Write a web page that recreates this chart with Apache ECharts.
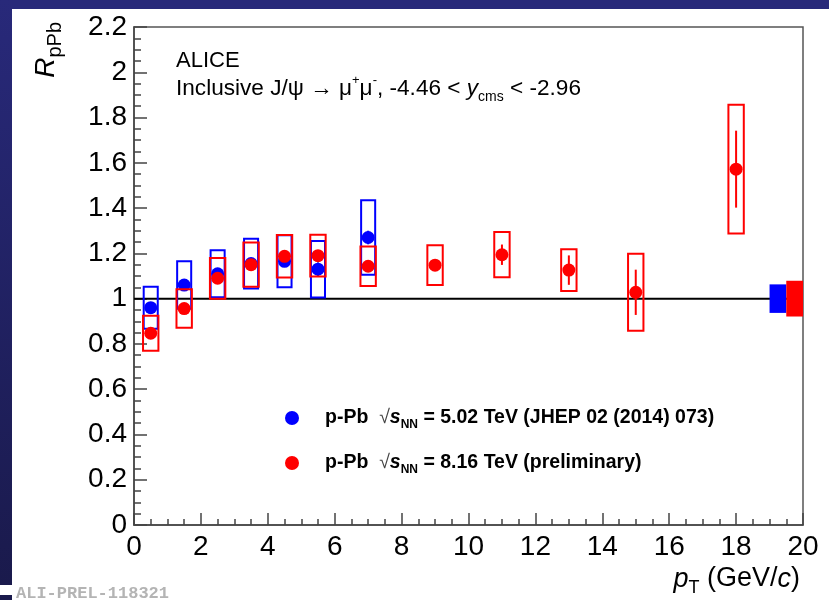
<!DOCTYPE html>
<html>
<head>
<meta charset="utf-8">
<script src="https://cdn.jsdelivr.net/npm/echarts@6/dist/echarts.min.js"></script>
<style>
html, body { margin: 0; padding: 0; background: #fff; }
#chart { width: 829px; height: 600px; }
</style>
</head>
<body>
<div id="chart"></div>
<script>
// p-Pb 5.02 TeV (JHEP 02 (2014) 073)
var pt502 = [0.5, 1.5, 2.5, 3.5, 4.5, 5.5, 7];
var rppb502 = [0.96, 1.06, 1.11, 1.155, 1.165, 1.13, 1.27];
var stat502 = [0.02, 0.02, 0.02, 0.025, 0.025, 0.03, 0.03];
var sys502 = [0.093, 0.105, 0.104, 0.11, 0.115, 0.125, 0.165];

// p-Pb 8.16 TeV (preliminary)
var pt816 = [0.5, 1.5, 2.5, 3.5, 4.5, 5.5, 7, 9, 11, 13, 15, 18];
var rppb816 = [0.847, 0.956, 1.09, 1.15, 1.187, 1.19, 1.143, 1.148, 1.194, 1.126, 1.028, 1.572];
var stat816 = [0.01, 0.015, 0.015, 0.015, 0.02, 0.02, 0.025, 0.025, 0.045, 0.065, 0.10, 0.17];
var sys816 = [0.077, 0.085, 0.09, 0.098, 0.094, 0.092, 0.087, 0.088, 0.10, 0.092, 0.17, 0.284];

// global (correlated) uncertainties drawn at R = 1 near the right edge
var globalRange502 = [19.0, 19.5];
var globalRange816 = [19.5, 20.0];
var globalUnc502 = 0.063;
var globalUnc816 = 0.079;

var xTicks = [0, 2, 4, 6, 8, 10, 12, 14, 16, 18, 20];
var yTicks = [0, 0.2, 0.4, 0.6, 0.8, 1, 1.2, 1.4, 1.6, 1.8, 2, 2.2];

var FONT = "'Liberation Sans', Arial, Helvetica, sans-serif";
var BLUE = '#0000ff';
var RED = '#ff0000';

function zip(xs, ys, es) {
    var out = [];
    for (var i = 0; i < xs.length; i++) {
        out.push(es ? [xs[i], ys[i], es[i]] : [xs[i], ys[i]]);
    }
    return out;
}

var boxRenderer = function(halfW, color) {
    return function(params, api) {
        var x = api.value(0), y = api.value(1), e = api.value(2);
        var p0 = api.coord([x - halfW, y + e]);
        var p1 = api.coord([x + halfW, y - e]);
        return {
            type: 'rect',
            shape: { x: p0[0], y: p0[1], width: p1[0] - p0[0], height: p1[1] - p0[1] },
            style: { fill: 'none', stroke: color, lineWidth: 2 }
        };
    };
};

var statRenderer = function(color) {
    return function(params, api) {
        var x = api.value(0), y = api.value(1), e = api.value(2);
        var p0 = api.coord([x, y - e]);
        var p1 = api.coord([x, y + e]);
        return {
            type: 'line',
            shape: { x1: p0[0], y1: p0[1], x2: p1[0], y2: p1[1] },
            style: { stroke: color, lineWidth: 2 }
        };
    };
};

var globalRenderer = function(color) {
    return function(params, api) {
        var p0 = api.coord([api.value(0), 1 + api.value(2)]);
        var p1 = api.coord([api.value(1), 1 - api.value(2)]);
        return {
            type: 'rect',
            shape: { x: p0[0], y: p0[1], width: p1[0] - p0[0], height: p1[1] - p0[1] },
            style: { fill: color }
        };
    };
};

var legendText = {
    '5.02': '{b|p-Pb  }{r|√}{i|s}{sub|NN}{b| = 5.02 TeV (JHEP 02 (2014) 073)}',
    '8.16': '{b|p-Pb  }{r|√}{i|s}{sub|NN}{b| = 8.16 TeV (preliminary)}'
};

var axisCommon = {
    axisLine: { show: true, onZero: false, lineStyle: { color: '#444', width: 1.5 } },
    splitLine: { show: false },
    axisLabel: { color: '#000', fontFamily: FONT, fontSize: 28 }
};

var chart = echarts.init(document.getElementById('chart'));

chart.setOption({
    animation: false,
    backgroundColor: '#ffffff',
    grid: {
        left: 134, right: 26, top: 27, bottom: 75,
        show: true, borderColor: '#555', borderWidth: 1.5, backgroundColor: 'transparent'
    },
    xAxis: Object.assign({}, axisCommon, {
        type: 'value', min: xTicks[0], max: xTicks[xTicks.length - 1], interval: 2,
        axisTick: { inside: true, length: 12, lineStyle: { color: '#444', width: 1.5 } },
        minorTick: { show: true, splitNumber: 4, length: 6, lineStyle: { color: '#444', width: 1.5 } },
        axisLabel: { color: '#000', fontFamily: FONT, fontSize: 28, margin: 8 }
    }),
    yAxis: Object.assign({}, axisCommon, {
        type: 'value', min: yTicks[0], max: yTicks[yTicks.length - 1], interval: 0.2,
        axisTick: { inside: true, length: 13, lineStyle: { color: '#444', width: 1.5 } },
        minorTick: { show: true, splitNumber: 4, length: 7, lineStyle: { color: '#444', width: 1.5 } },
        axisLabel: { color: '#000', fontFamily: FONT, fontSize: 28, margin: 7 }
    }),
    legend: {
        data: ['5.02', '8.16'],
        orient: 'vertical',
        left: 280, top: 403,
        icon: 'circle',
        itemWidth: 56, itemHeight: 14, itemGap: 22,
        selectedMode: false,
        formatter: function(name) { return legendText[name]; },
        textStyle: {
            color: '#000', fontFamily: FONT, fontSize: 19.5, fontWeight: 'bold',
            rich: {
                b: { fontFamily: FONT, fontSize: 19.5, fontWeight: 'bold', color: '#000', lineHeight: 26 },
                r: { fontFamily: FONT, fontSize: 19.5, fontWeight: 'normal', color: '#444', lineHeight: 26 },
                i: { fontFamily: FONT, fontSize: 19.5, fontWeight: 'bold', fontStyle: 'italic', color: '#000', lineHeight: 26 },
                sub: { fontFamily: FONT, fontSize: 12, fontWeight: 'bold', color: '#000', verticalAlign: 'bottom', lineHeight: 14 }
            }
        }
    },
    graphic: [
        { type: 'rect', shape: { x: 0, y: 0, width: 829, height: 9 }, style: { fill: '#28297a' }, z: 100 },
        {
            type: 'rect', shape: { x: 0, y: 0, width: 12, height: 585 }, z: 100,
            style: { fill: new echarts.graphic.LinearGradient(0, 0, 0, 1, [
                { offset: 0, color: '#28297a' }, { offset: 1, color: '#1a1a4c' }
            ]) }
        },
        { type: 'rect', shape: { x: 0, y: 595, width: 12, height: 5 }, style: { fill: '#1a1a4c' }, z: 100 },
        {
            type: 'text', x: 16, y: 594, z: 100,
            style: { text: 'ALI-PREL-118321', font: "bold 17px 'Liberation Mono', monospace", fill: '#b4b4b4', verticalAlign: 'middle' }
        },
        {
            type: 'text', x: 176, y: 61, z: 100,
            style: { text: 'ALICE', font: '22px ' + FONT, fill: '#000', verticalAlign: 'middle' }
        },
        {
            type: 'text', x: 176, y: 89, z: 100,
            style: {
                text: '{n|Inclusive J/ψ → μ}{sup|+}{n|μ}{sup|-}{n|, -4.46 < }{i|y}{sub|cms}{n| < -2.96}',
                verticalAlign: 'middle',
                rich: {
                    n: { fontFamily: FONT, fontSize: 22.6, fill: '#000', lineHeight: 30 },
                    i: { fontFamily: FONT, fontSize: 22.6, fontStyle: 'italic', fill: '#000', lineHeight: 30 },
                    sup: { fontFamily: FONT, fontSize: 13, fill: '#000', verticalAlign: 'top', lineHeight: 14 },
                    sub: { fontFamily: FONT, fontSize: 14, fill: '#000', verticalAlign: 'bottom', lineHeight: 14 }
                }
            }
        },
        {
            type: 'text', x: 46.5, y: 22, rotation: Math.PI / 2, z: 100,
            style: {
                text: '{r|R}{s|pPb}',
                align: 'right', verticalAlign: 'middle',
                rich: {
                    r: { fontFamily: FONT, fontSize: 28, fontStyle: 'italic', fill: '#000', lineHeight: 38 },
                    s: { fontFamily: FONT, fontSize: 20, fill: '#000', verticalAlign: 'bottom', lineHeight: 19 }
                }
            }
        },
        {
            type: 'text', x: 800, y: 579, z: 100,
            style: {
                text: '{i|p}{s|T}{n| (GeV/}{i|c}{n|)}',
                align: 'right', verticalAlign: 'middle',
                rich: {
                    i: { fontFamily: FONT, fontSize: 27, fontStyle: 'italic', fill: '#000', lineHeight: 36 },
                    n: { fontFamily: FONT, fontSize: 27, fill: '#000', lineHeight: 36 },
                    s: { fontFamily: FONT, fontSize: 18, fill: '#000', verticalAlign: 'bottom', lineHeight: 18 }
                }
            }
        }
    ],
    series: [
        {
            name: 'unity', type: 'line', data: [[0, 1], [20, 1]], symbol: 'none', z: 1,
            lineStyle: { color: '#000', width: 2 }, silent: true
        },
        {
            name: 'global502', type: 'custom', z: 2, data: [[globalRange502[0], globalRange502[1], globalUnc502]],
            renderItem: globalRenderer(BLUE), encode: { x: [0, 1], y: 2 }, clip: false
        },
        {
            name: 'global816', type: 'custom', z: 2, data: [[globalRange816[0], globalRange816[1], globalUnc816]],
            renderItem: globalRenderer(RED), encode: { x: [0, 1], y: 2 }, clip: false
        },
        {
            name: 'sys502', type: 'custom', z: 3, data: zip(pt502, rppb502, sys502),
            renderItem: boxRenderer(0.21, BLUE), encode: { x: 0, y: 1 }
        },
        {
            name: 'stat502', type: 'custom', z: 4, data: zip(pt502, rppb502, stat502),
            renderItem: statRenderer(BLUE), encode: { x: 0, y: 1 }
        },
        {
            name: '5.02', type: 'scatter', z: 5, data: zip(pt502, rppb502),
            symbol: 'circle', symbolSize: 13, itemStyle: { color: BLUE, opacity: 1 }
        },
        {
            name: 'sys816', type: 'custom', z: 6, data: zip(pt816, rppb816, sys816),
            renderItem: boxRenderer(0.23, RED), encode: { x: 0, y: 1 }
        },
        {
            name: 'stat816', type: 'custom', z: 7, data: zip(pt816, rppb816, stat816),
            renderItem: statRenderer(RED), encode: { x: 0, y: 1 }
        },
        {
            name: '8.16', type: 'scatter', z: 8, data: zip(pt816, rppb816),
            symbol: 'circle', symbolSize: 13, itemStyle: { color: RED, opacity: 1 }
        }
    ]
});
</script>
</body>
</html>
